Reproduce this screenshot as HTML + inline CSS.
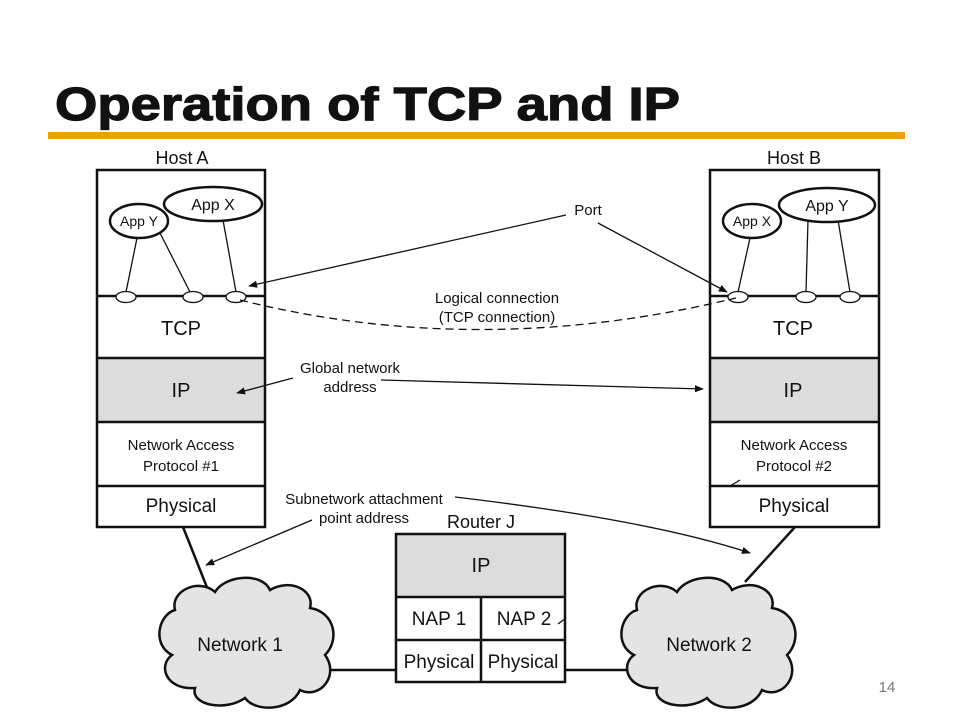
<!DOCTYPE html>
<html><head><style>
html,body{margin:0;padding:0;background:#fff}
svg{display:block}
text{font-family:"Liberation Sans",Arial,sans-serif;fill:#111}
</style></head><body>
<svg width="960" height="720" viewBox="0 0 960 720">
<defs>
<marker id="ah" viewBox="0 0 10 10" refX="9" refY="5" markerWidth="9" markerHeight="9" orient="auto-start-reverse" markerUnits="userSpaceOnUse"><path d="M0,1 L10,5 L0,9 z" fill="#111"/></marker>
</defs>
<text x="55" y="120" font-size="46" font-weight="bold" textLength="625" lengthAdjust="spacingAndGlyphs" stroke="#111" stroke-width="1.2">Operation of TCP and IP</text>
<rect x="48" y="132" width="857" height="7" fill="#f0a000"/>

<!-- Host A -->
<text x="182" y="164" font-size="18" text-anchor="middle">Host A</text>
<rect x="97" y="358" width="168" height="64" fill="#dcdcdc"/>
<rect x="97" y="170" width="168" height="357" fill="none" stroke="#111" stroke-width="2.5"/>
<g stroke="#111" stroke-width="2.5"><line x1="97" y1="296" x2="265" y2="296"/><line x1="97" y1="358" x2="265" y2="358"/><line x1="97" y1="422" x2="265" y2="422"/><line x1="97" y1="486" x2="265" y2="486"/></g>
<g stroke="#111" stroke-width="1.3"><line x1="137" y1="238" x2="126" y2="292"/><line x1="160" y1="233" x2="190" y2="292"/><line x1="223" y1="220" x2="236" y2="292"/></g>
<ellipse cx="139" cy="221" rx="29" ry="17" fill="#fff" stroke="#111" stroke-width="2.5"/>
<ellipse cx="213" cy="204" rx="49" ry="17" fill="#fff" stroke="#111" stroke-width="2.5"/>
<text x="139" y="226" font-size="14" text-anchor="middle">App Y</text>
<text x="213" y="210" font-size="16" text-anchor="middle">App X</text>
<g fill="#fff" stroke="#111" stroke-width="1.3"><ellipse cx="126" cy="297" rx="10" ry="5.5"/><ellipse cx="193" cy="297" rx="10" ry="5.5"/><ellipse cx="236" cy="297" rx="10" ry="5.5"/></g>
<text x="181" y="335" font-size="20" text-anchor="middle">TCP</text>
<text x="181" y="397" font-size="20" text-anchor="middle">IP</text>
<text x="181" y="450" font-size="15" text-anchor="middle">Network Access</text>
<text x="181" y="471" font-size="15" text-anchor="middle">Protocol #1</text>
<text x="181" y="512" font-size="19" text-anchor="middle">Physical</text>

<!-- Host B -->
<text x="794" y="164" font-size="18" text-anchor="middle">Host B</text>
<rect x="710" y="358" width="169" height="64" fill="#dcdcdc"/>
<rect x="710" y="170" width="169" height="357" fill="none" stroke="#111" stroke-width="2.5"/>
<g stroke="#111" stroke-width="2.5"><line x1="710" y1="296" x2="879" y2="296"/><line x1="710" y1="358" x2="879" y2="358"/><line x1="710" y1="422" x2="879" y2="422"/><line x1="710" y1="486" x2="879" y2="486"/></g>
<g stroke="#111" stroke-width="1.3"><line x1="750" y1="238" x2="738" y2="292"/><line x1="808" y1="220" x2="806" y2="292"/><line x1="838" y1="220" x2="850" y2="292"/></g>
<ellipse cx="752" cy="221" rx="29" ry="17" fill="#fff" stroke="#111" stroke-width="2.5"/>
<ellipse cx="827" cy="205" rx="48" ry="17" fill="#fff" stroke="#111" stroke-width="2.5"/>
<text x="752" y="226" font-size="14" text-anchor="middle">App X</text>
<text x="827" y="211" font-size="16" text-anchor="middle">App Y</text>
<g fill="#fff" stroke="#111" stroke-width="1.3"><ellipse cx="738" cy="297" rx="10" ry="5.5"/><ellipse cx="806" cy="297" rx="10" ry="5.5"/><ellipse cx="850" cy="297" rx="10" ry="5.5"/></g>
<text x="793" y="335" font-size="20" text-anchor="middle">TCP</text>
<text x="793" y="397" font-size="20" text-anchor="middle">IP</text>
<text x="794" y="450" font-size="15" text-anchor="middle">Network Access</text>
<text x="794" y="471" font-size="15" text-anchor="middle">Protocol #2</text>
<text x="794" y="512" font-size="19" text-anchor="middle">Physical</text>

<!-- Router -->
<text x="481" y="528" font-size="18" text-anchor="middle">Router J</text>
<rect x="396" y="534" width="169" height="63" fill="#dcdcdc"/>
<rect x="396" y="534" width="169" height="148" fill="none" stroke="#111" stroke-width="2.5"/>
<g stroke="#111" stroke-width="2.5"><line x1="396" y1="597" x2="565" y2="597"/><line x1="396" y1="640" x2="565" y2="640"/><line x1="481" y1="597" x2="481" y2="682"/></g>
<text x="481" y="572" font-size="20" text-anchor="middle">IP</text>
<text x="439" y="625" font-size="19" text-anchor="middle">NAP 1</text>
<text x="524" y="625" font-size="19" text-anchor="middle">NAP 2</text>
<text x="439" y="668" font-size="19" text-anchor="middle">Physical</text>
<text x="523" y="668" font-size="19" text-anchor="middle">Physical</text>

<!-- connections -->
<g stroke="#111" stroke-width="2.5"><line x1="183" y1="527" x2="210" y2="595"/><line x1="795" y1="527" x2="745" y2="582"/><line x1="320" y1="670" x2="396" y2="670"/><line x1="565" y1="670" x2="632" y2="670"/></g>

<!-- clouds -->
<g fill="#e4e4e4" stroke="#111" stroke-width="2.5">
<path d="M175,610 C170,590 200,578 215,592 C225,575 262,572 270,590 C290,578 315,590 310,608 C335,612 340,640 325,655 C340,675 320,700 300,690 C290,712 255,712 245,698 C225,712 190,705 195,688 C165,690 158,665 172,655 C152,645 158,615 175,610 Z"/>
<path d="M637,610 C632,590 662,578 677,592 C687,575 724,572 732,590 C752,578 777,590 772,608 C797,612 802,640 787,655 C802,675 782,700 762,690 C752,712 717,712 707,698 C687,712 652,705 657,688 C627,690 620,665 634,655 C614,645 620,615 637,610 Z"/>
</g>
<text x="240" y="651" font-size="19" text-anchor="middle">Network 1</text>
<text x="709" y="651" font-size="19" text-anchor="middle">Network 2</text>

<!-- labels & arrows -->
<text x="588" y="215" font-size="15" text-anchor="middle">Port</text>
<g stroke="#111" stroke-width="1.3" fill="none">
<line x1="566" y1="215" x2="249" y2="286" marker-end="url(#ah)"/>
<line x1="598" y1="223" x2="727" y2="292" marker-end="url(#ah)"/>
<path d="M240,300 Q480,360 736,298" stroke-dasharray="8,5"/>
<line x1="293" y1="378" x2="237" y2="393" marker-end="url(#ah)"/>
<line x1="381" y1="380" x2="703" y2="389" marker-end="url(#ah)"/>
<line x1="312" y1="520" x2="206" y2="565" marker-end="url(#ah)"/>
<path d="M455,497 Q650,520 750,553" marker-end="url(#ah)"/>
<line x1="730" y1="486" x2="740" y2="480"/>
<line x1="558" y1="624" x2="566" y2="618"/>
</g>
<text x="497" y="303" font-size="15" text-anchor="middle">Logical connection</text>
<text x="497" y="322" font-size="15" text-anchor="middle">(TCP connection)</text>
<text x="350" y="373" font-size="15" text-anchor="middle">Global network</text>
<text x="350" y="392" font-size="15" text-anchor="middle">address</text>
<text x="364" y="504" font-size="15" text-anchor="middle">Subnetwork attachment</text>
<text x="364" y="523" font-size="15" text-anchor="middle">point address</text>
<text x="887" y="692" font-size="15" style="fill:#777" text-anchor="middle">14</text>
</svg>
</body></html>
